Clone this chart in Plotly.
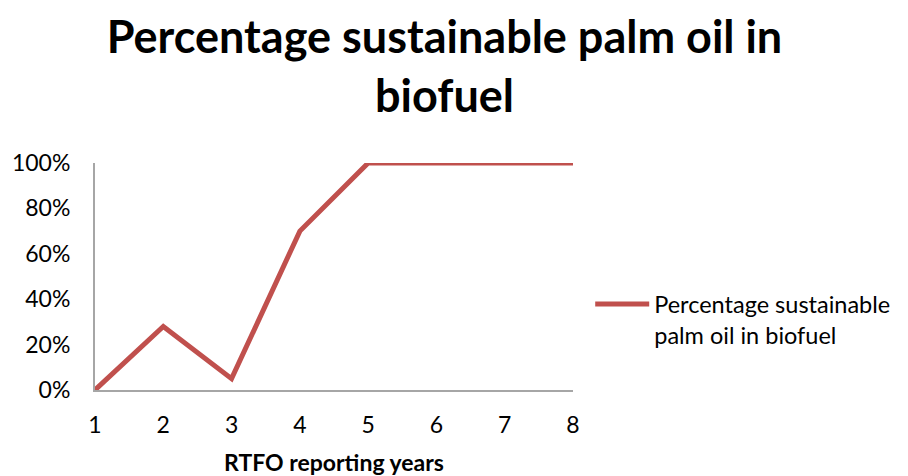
import plotly.graph_objects as go

years = [1, 2, 3, 4, 5, 6, 7, 8]
pct_sustainable = [0, 28, 5, 70, 100, 100, 100, 100]
y_ticks = [0, 20, 40, 60, 80, 100]
y_tick_labels = ["0%", "20%", "40%", "60%", "80%", "100%"]

FONT = "Lato, Carlito, 'Open Sans', sans-serif"

fig = go.Figure()
fig.add_trace(go.Scatter(
    x=years, y=pct_sustainable, mode="lines",
    name="Percentage sustainable<br>palm oil in biofuel",
    line=dict(color="#C0504D", width=5),
))

fig.update_layout(
    width=900, height=468, autosize=False,
    paper_bgcolor="white", plot_bgcolor="white",
    margin=dict(l=87, r=335, t=155, b=86),
    font=dict(family=FONT, size=23, color="black"),
    title=dict(
        text="<b>Percentage sustainable palm oil in<br>biofuel</b>",
        x=0.485, xanchor="center", yref="container", y=0.903, yanchor="middle",
        font=dict(family=FONT, size=45, color="black"),
    ),
    showlegend=True,
    legend=dict(
        x=1.036, xanchor="left", y=0.31, yanchor="middle",
        font=dict(family=FONT, size=23.5, color="black"),
        itemwidth=54, valign="top", bgcolor="rgba(0,0,0,0)",
    ),
    xaxis=dict(
        range=[1, 8], tickvals=years, ticktext=[str(v) for v in years],
        showgrid=False, zeroline=False, showline=True, linecolor="#a6a6a6",
        linewidth=2, ticks="", ticklabelstandoff=13, automargin=False,
        title=dict(text="<b>RTFO reporting years</b>", standoff=30,
                   font=dict(family=FONT, size=23, color="black")),
    ),
    yaxis=dict(
        range=[0, 100], tickvals=y_ticks, ticktext=y_tick_labels,
        showgrid=False, zeroline=False, showline=True, linecolor="#a6a6a6",
        linewidth=2, ticks="", ticklabelstandoff=18, automargin=False,
    ),
)

fig.write_html("out.html")
